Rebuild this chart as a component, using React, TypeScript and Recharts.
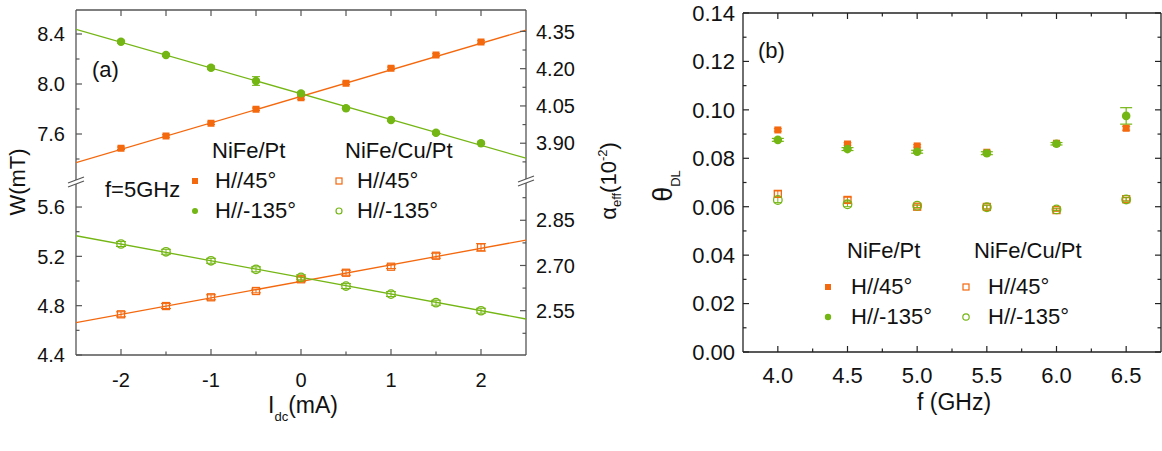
import React from 'react';
import { ScatterChart, Scatter, XAxis, YAxis, ErrorBar } from 'recharts';

const ORANGE = '#f4680e';
const GREEN = '#74b614';
const FONT = "'Liberation Sans', Arial, Helvetica, sans-serif";
const AXIS_A = '#555555';
const AXIS_B = '#222222';

// ---------- Panel (a): linewidth W vs Idc ----------
const currents = [-2, -1.5, -1, -0.5, 0, 0.5, 1, 1.5, 2];
const wPtH45 = [7.486, 7.584, 7.686, 7.798, 7.89, 8.006, 8.126, 8.232, 8.336];
const wPtH45Err = [0.01, 0.01, 0.01, 0.01, 0.012, 0.01, 0.01, 0.01, 0.01];
const wPtH135 = [8.338, 8.232, 8.13, 8.024, 7.925, 7.806, 7.712, 7.61, 7.526];
const wPtH135Err = [0.012, 0.012, 0.015, 0.035, 0.012, 0.012, 0.01, 0.012, 0.01];
const wCuH45 = [4.73, 4.797, 4.868, 4.919, 5.014, 5.067, 5.116, 5.205, 5.273];
const wCuH45Err = [0.02, 0.02, 0.02, 0.015, 0.02, 0.02, 0.015, 0.02, 0.03];
const wCuH135 = [5.3, 5.237, 5.164, 5.095, 5.03, 4.959, 4.894, 4.824, 4.759];
const wCuH135Err = [0.02, 0.02, 0.02, 0.02, 0.02, 0.02, 0.02, 0.02, 0.02];

const fitCurrents = [-2.5, 2.5];
const fitPtH45 = [7.37, 8.432];
const fitPtH135 = [8.438, 7.406];
const fitCuH45 = [4.662, 5.332];
const fitCuH135 = [5.367, 4.692];

const xTicksA = [-2, -1.5, -1, -0.5, 0, 0.5, 1, 1.5, 2];
const xMajorsA = [-2, -1, 0, 1, 2];
const wUpperTicks = [7.4, 7.6, 7.8, 8.0, 8.2, 8.4];
const wUpperMajors = [7.6, 8.0, 8.4];
const wLowerTicks = [4.4, 4.6, 4.8, 5.0, 5.2, 5.4, 5.6];
const wLowerMajors = [4.4, 4.8, 5.2, 5.6];
const aUpperTicks = [3.825, 3.9, 3.975, 4.05, 4.125, 4.2, 4.275, 4.35];
const aUpperMajors = [3.9, 4.05, 4.2, 4.35];
const aLowerTicks = [2.475, 2.55, 2.625, 2.7, 2.775, 2.85, 2.925];
const aLowerMajors = [2.55, 2.7, 2.85];

// ---------- Panel (b): theta_DL vs f ----------
const freqs = [4.0, 4.5, 5.0, 5.5, 6.0, 6.5];
const thPtH45 = [0.0917, 0.0859, 0.0851, 0.0825, 0.0862, 0.0924];
const thPtH45Err = [0.0005, 0.0005, 0.0005, 0.0005, 0.0005, 0.0008];
const thPtH135 = [0.0876, 0.0838, 0.0827, 0.0821, 0.086, 0.0975];
const thPtH135Err = [0.0006, 0.0006, 0.0006, 0.0006, 0.0005, 0.0034];
const thCuH45 = [0.0653, 0.0628, 0.06, 0.0599, 0.0586, 0.0631];
const thCuH45Err = [0.0012, 0.0011, 0.0006, 0.0008, 0.0005, 0.0007];
const thCuH135 = [0.0628, 0.061, 0.0604, 0.0598, 0.0589, 0.063];
const thCuH135Err = [0.0011, 0.001, 0.0007, 0.0008, 0.0005, 0.0007];

const fTicks = [4.0, 4.25, 4.5, 4.75, 5.0, 5.25, 5.5, 5.75, 6.0, 6.25, 6.5];
const fMajors = [4.0, 4.5, 5.0, 5.5, 6.0, 6.5];
const thTicks = [0, 0.01, 0.02, 0.03, 0.04, 0.05, 0.06, 0.07, 0.08, 0.09, 0.1, 0.11, 0.12, 0.13, 0.14];
const thMajors = [0, 0.02, 0.04, 0.06, 0.08, 0.1, 0.12, 0.14];

const toPts = (xs: number[], ys: number[], es?: number[]) =>
  xs.map((x, i) => ({ x, y: ys[i], err: es ? es[i] : 0 }));

// ---------- markers ----------
const FilledSquare = (color: string, s = 7) => (p: any) =>
  <rect x={p.cx - s / 2} y={p.cy - s / 2} width={s} height={s} fill={color} />;
const OpenSquare = (color: string, s = 7) => (p: any) =>
  <rect x={p.cx - s / 2} y={p.cy - s / 2} width={s} height={s} fill="none" stroke={color} strokeWidth={1.3} />;
const FilledCircle = (color: string, r = 4) => (p: any) =>
  <circle cx={p.cx} cy={p.cy} r={r} fill={color} />;
const OpenCircle = (color: string, r = 4) => (p: any) =>
  <circle cx={p.cx} cy={p.cy} r={r} fill="none" stroke={color} strokeWidth={1.3} />;
const NoShape = () => <g />;

// ---------- ticks ----------
type Orient = 'left' | 'right' | 'top' | 'bottom';
const makeTick = (
  orient: Orient,
  margin: number,
  majors: number[],
  fmt: ((v: number) => string) | null,
  fontSize: number,
  stroke: string,
) => (props: any) => {
  const x = Number(props.x);
  const y = Number(props.y);
  const v = Number(props.payload ? props.payload.value : 0);
  const major = majors.some((m) => Math.abs(m - v) < 1e-6);
  const len = major ? 6 : 3.5;
  let x1 = 0, y1 = 0, x2 = 0, y2 = 0;
  let anchor: 'start' | 'middle' | 'end' = 'middle';
  let dy = '0.36em';
  if (orient === 'left') {
    const ax = x + margin; x1 = ax; x2 = ax + len; y1 = y2 = y; anchor = 'end';
  } else if (orient === 'right') {
    const ax = x - margin; x1 = ax; x2 = ax - len; y1 = y2 = y; anchor = 'start';
  } else if (orient === 'bottom') {
    const ay = y - margin; y1 = ay; y2 = ay - len; x1 = x2 = x; dy = '0.72em';
  } else {
    const ay = y + margin; y1 = ay; y2 = ay + len; x1 = x2 = x;
  }
  return (
    <g>
      <line x1={x1} y1={y1} x2={x2} y2={y2} stroke={stroke} strokeWidth={1.2} />
      {fmt && major ? (
        <text x={x} y={y} dy={dy} textAnchor={anchor} fontSize={fontSize} fontFamily={FONT} fill="#111">
          {fmt(v)}
        </text>
      ) : null}
    </g>
  );
};

const f1 = (v: number) => v.toFixed(1);
const f2 = (v: number) => v.toFixed(2);
const fInt = (v: number) => String(v);

// ---------- Panel (a) upper ----------
function PanelAUpper() {
  return (
    <ScatterChart width={600} height={182} margin={{ top: 0, right: 0, bottom: 0, left: 0 }}>
      <XAxis xAxisId="x" orientation="top" type="number" dataKey="x" domain={[-2.5, 2.5]} ticks={xTicksA}
        height={10} interval={0} tickSize={0} tickMargin={0} tickLine={false} allowDataOverflow
        axisLine={{ stroke: AXIS_A, strokeWidth: 1.3 }} tick={makeTick('top', 0, xTicksA, null, 20, AXIS_A)} />
      <YAxis yAxisId="l" orientation="left" type="number" dataKey="y" domain={[7.216, 8.592]} ticks={wUpperTicks}
        width={76} interval={0} tickSize={0} tickMargin={11} tickLine={false} allowDataOverflow
        axisLine={{ stroke: AXIS_A, strokeWidth: 1.3 }} tick={makeTick('left', 11, wUpperMajors, f1, 20, AXIS_A)} />
      <YAxis yAxisId="r" orientation="right" type="number" dataKey="y" domain={[3.744, 4.436]} ticks={aUpperTicks}
        width={74} interval={0} tickSize={0} tickMargin={10} tickLine={false} allowDataOverflow
        axisLine={{ stroke: AXIS_A, strokeWidth: 1.3 }} tick={makeTick('right', 10, aUpperMajors, f2, 20, AXIS_A)} />
      <Scatter xAxisId="x" yAxisId="l" data={toPts(fitCurrents, fitPtH45)} line={{ stroke: ORANGE, strokeWidth: 1.3 }}
        shape={NoShape} isAnimationActive={false} />
      <Scatter xAxisId="x" yAxisId="l" data={toPts(fitCurrents, fitPtH135)} line={{ stroke: GREEN, strokeWidth: 1.3 }}
        shape={NoShape} isAnimationActive={false} />
      <Scatter xAxisId="x" yAxisId="l" data={toPts(currents, wPtH45, wPtH45Err)} shape={FilledSquare(ORANGE)} isAnimationActive={false}>
        <ErrorBar dataKey="err" direction="y" width={4} stroke={ORANGE} strokeWidth={1} />
      </Scatter>
      <Scatter xAxisId="x" yAxisId="l" data={toPts(currents, wPtH135, wPtH135Err)} shape={FilledCircle(GREEN, 4.2)} isAnimationActive={false}>
        <ErrorBar dataKey="err" direction="y" width={4} stroke={GREEN} strokeWidth={1} />
      </Scatter>
    </ScatterChart>
  );
}

// ---------- Panel (a) lower ----------
function PanelALower() {
  return (
    <ScatterChart width={600} height={269} margin={{ top: 0, right: 0, bottom: 0, left: 0 }}>
      <XAxis xAxisId="x" orientation="bottom" type="number" dataKey="x" domain={[-2.5, 2.5]} ticks={xTicksA}
        height={96} interval={0} tickSize={0} tickMargin={18} tickLine={false} allowDataOverflow
        axisLine={{ stroke: AXIS_A, strokeWidth: 1.3 }} tick={makeTick('bottom', 18, xMajorsA, fInt, 20, AXIS_A)} />
      <YAxis yAxisId="l" orientation="left" type="number" dataKey="y" domain={[4.4, 5.803]} ticks={wLowerTicks}
        width={76} interval={0} tickSize={0} tickMargin={11} tickLine={false} allowDataOverflow
        axisLine={{ stroke: AXIS_A, strokeWidth: 1.3 }} tick={makeTick('left', 11, wLowerMajors, f1, 20, AXIS_A)} />
      <YAxis yAxisId="r" orientation="right" type="number" dataKey="y" domain={[2.403, 2.977]} ticks={aLowerTicks}
        width={74} interval={0} tickSize={0} tickMargin={10} tickLine={false} allowDataOverflow
        axisLine={{ stroke: AXIS_A, strokeWidth: 1.3 }} tick={makeTick('right', 10, aLowerMajors, f2, 20, AXIS_A)} />
      <Scatter xAxisId="x" yAxisId="l" data={toPts(fitCurrents, fitCuH45)} line={{ stroke: ORANGE, strokeWidth: 1.3 }}
        shape={NoShape} isAnimationActive={false} />
      <Scatter xAxisId="x" yAxisId="l" data={toPts(fitCurrents, fitCuH135)} line={{ stroke: GREEN, strokeWidth: 1.3 }}
        shape={NoShape} isAnimationActive={false} />
      <Scatter xAxisId="x" yAxisId="l" data={toPts(currents, wCuH45, wCuH45Err)} shape={OpenSquare(ORANGE)} isAnimationActive={false}>
        <ErrorBar dataKey="err" direction="y" width={5} stroke={ORANGE} strokeWidth={1} />
      </Scatter>
      <Scatter xAxisId="x" yAxisId="l" data={toPts(currents, wCuH135, wCuH135Err)} shape={OpenCircle(GREEN, 4.2)} isAnimationActive={false}>
        <ErrorBar dataKey="err" direction="y" width={5} stroke={GREEN} strokeWidth={1} />
      </Scatter>
    </ScatterChart>
  );
}

// ---------- Panel (b) ----------
function PanelB() {
  return (
    <ScatterChart width={522} height={451} margin={{ top: 0, right: 0, bottom: 0, left: 0 }}>
      <XAxis xAxisId="b" orientation="bottom" type="number" dataKey="x" domain={[3.75, 6.75]} ticks={fTicks}
        height={99} interval={0} tickSize={0} tickMargin={15} tickLine={false} allowDataOverflow
        axisLine={{ stroke: AXIS_B, strokeWidth: 1.3 }} tick={makeTick('bottom', 15, fMajors, f1, 22, AXIS_B)} />
      <XAxis xAxisId="t" orientation="top" type="number" dataKey="x" domain={[3.75, 6.75]} ticks={fTicks}
        height={13} interval={0} tickSize={0} tickMargin={0} tickLine={false} allowDataOverflow
        axisLine={{ stroke: AXIS_B, strokeWidth: 1.3 }} tick={makeTick('top', 0, fMajors, null, 22, AXIS_B)} />
      <YAxis yAxisId="l" orientation="left" type="number" dataKey="y" domain={[0, 0.14]} ticks={thTicks}
        width={103} interval={0} tickSize={0} tickMargin={8} tickLine={false} allowDataOverflow
        axisLine={{ stroke: AXIS_B, strokeWidth: 1.3 }} tick={makeTick('left', 8, thMajors, f2, 22, AXIS_B)} />
      <YAxis yAxisId="r" orientation="right" type="number" dataKey="y" domain={[0, 0.14]} ticks={thTicks}
        width={1} interval={0} tickSize={0} tickMargin={0} tickLine={false} allowDataOverflow
        axisLine={{ stroke: AXIS_B, strokeWidth: 1.3 }} tick={makeTick('right', 0, thMajors, null, 22, AXIS_B)} />
      <Scatter xAxisId="b" yAxisId="l" data={toPts(freqs, thCuH45, thCuH45Err)} shape={OpenSquare(ORANGE)} isAnimationActive={false}>
        <ErrorBar dataKey="err" direction="y" width={4} stroke={ORANGE} strokeWidth={1} />
      </Scatter>
      <Scatter xAxisId="b" yAxisId="l" data={toPts(freqs, thCuH135, thCuH135Err)} shape={OpenCircle(GREEN, 4.3)} isAnimationActive={false}>
        <ErrorBar dataKey="err" direction="y" width={4} stroke={GREEN} strokeWidth={1} />
      </Scatter>
      <Scatter xAxisId="b" yAxisId="l" data={toPts(freqs, thPtH45, thPtH45Err)} shape={FilledSquare(ORANGE)} isAnimationActive={false}>
        <ErrorBar dataKey="err" direction="y" width={4} stroke={ORANGE} strokeWidth={1} />
      </Scatter>
      <Scatter xAxisId="b" yAxisId="l" data={toPts(freqs, thPtH135, thPtH135Err)} shape={FilledCircle(GREEN, 4.3)} isAnimationActive={false}>
        <ErrorBar dataKey="err" direction="y" width={6} stroke={GREEN} strokeWidth={1.2} />
      </Scatter>
    </ScatterChart>
  );
}

// ---------- overlay: titles, legends, break marks ----------
const T = (p: { x: number; y: number; size?: number; children: React.ReactNode; anchor?: 'start' | 'middle' | 'end' }) => (
  <text x={p.x} y={p.y} fontSize={p.size || 22} fontFamily={FONT} fill="#111" textAnchor={p.anchor || 'start'}>
    {p.children}
  </text>
);

function BreakMark({ x, y }: { x: number; y: number }) {
  return (
    <g>
      <rect x={x - 3} y={y - 2} width={6} height={4} fill="#fff" />
      <line x1={x - 8} y1={y + 1} x2={x + 8} y2={y - 5} stroke={AXIS_A} strokeWidth={1.2} />
      <line x1={x - 8} y1={y + 5} x2={x + 8} y2={y - 1} stroke={AXIS_A} strokeWidth={1.2} />
    </g>
  );
}

function Overlay() {
  return (
    <svg width={1162} height={451} style={{ position: 'absolute', left: 0, top: 0, pointerEvents: 'none' }}>
      <BreakMark x={76} y={182} />
      <BreakMark x={526} y={181} />

      {/* panel (a) labels */}
      <T x={92} y={77} size={22}>(a)</T>
      <T x={105} y={197} size={22}>f=5GHz</T>
      <T x={212} y={158} size={22}>NiFe/Pt</T>
      <rect x={192} y={178} width={6} height={6} fill={ORANGE} />
      <T x={215} y={188} size={22}>H//45°</T>
      <circle cx={195} cy={211} r={3} fill={GREEN} />
      <T x={215} y={218} size={22}>H//-135°</T>
      <T x={345} y={158} size={22}>NiFe/Cu/Pt</T>
      <rect x={336} y={178} width={6} height={6} fill="none" stroke={ORANGE} strokeWidth={1.2} />
      <T x={357} y={188} size={22}>H//45°</T>
      <circle cx={339} cy={211} r={3} fill="none" stroke={GREEN} strokeWidth={1.2} />
      <T x={357} y={218} size={22}>H//-135°</T>

      {/* W(mT) */}
      <text transform="translate(25,182) rotate(-90)" textAnchor="middle" fontSize={22} fontFamily={FONT} fill="#111">W(mT)</text>
      {/* alpha_eff(10^-2) */}
      <text transform="translate(616,181) rotate(-90)" textAnchor="middle" fontSize={22} fontFamily={FONT} fill="#111">
        α<tspan fontSize={13} dy={5}>eff</tspan>
        <tspan dy={-5}>(10</tspan>
        <tspan fontSize={13} dy={-9}>-2</tspan>
        <tspan dy={9}>)</tspan>
      </text>
      {/* I_dc(mA) */}
      <text x={303} y={413} textAnchor="middle" fontSize={23} fontFamily={FONT} fill="#111">
        I<tspan fontSize={13} dy={8}>dc</tspan>
        <tspan dy={-8}>(mA)</tspan>
      </text>

      {/* panel (b) labels */}
      <T x={758} y={58} size={22}>(b)</T>
      <T x={847} y={258} size={22}>NiFe/Pt</T>
      <rect x={825} y={284} width={6} height={6} fill={ORANGE} />
      <T x={851} y={294} size={22}>H//45°</T>
      <circle cx={828} cy={317} r={3.2} fill={GREEN} />
      <T x={851} y={324} size={22}>H//-135°</T>
      <T x={974} y={258} size={22}>NiFe/Cu/Pt</T>
      <rect x={963} y={284} width={6} height={6} fill="none" stroke={ORANGE} strokeWidth={1.2} />
      <T x={988} y={294} size={22}>H//45°</T>
      <circle cx={966} cy={317} r={3.2} fill="none" stroke={GREEN} strokeWidth={1.2} />
      <T x={988} y={324} size={22}>H//-135°</T>

      {/* theta_DL */}
      <text transform="translate(672,186) rotate(-90)" textAnchor="middle" fontSize={27} fontFamily={FONT} fill="#111">
        θ<tspan fontSize={13} dy={8}>DL</tspan>
      </text>
      {/* f (GHz) */}
      <text x={954} y={410} textAnchor="middle" fontSize={23} fontFamily={FONT} fill="#111">f (GHz)</text>
    </svg>
  );
}

export default function App() {
  return (
    <div style={{ position: 'absolute', left: 0, top: 0, width: 1162, height: 451, background: '#fff', fontFamily: FONT, overflow: 'hidden' }}>
      <div style={{ position: 'absolute', left: 0, top: 0 }}>
        <PanelAUpper />
      </div>
      <div style={{ position: 'absolute', left: 0, top: 182 }}>
        <PanelALower />
      </div>
      <div style={{ position: 'absolute', left: 640, top: 0 }}>
        <PanelB />
      </div>
      <Overlay />
    </div>
  );
}
